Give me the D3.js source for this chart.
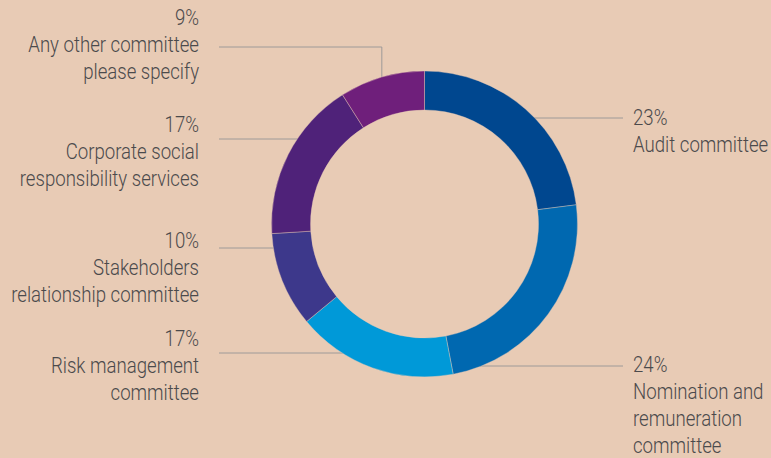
<!DOCTYPE html>
<html>
<head>
<meta charset="utf-8">
<script src="https://cdn.jsdelivr.net/npm/d3@7"></script>
<style>
  html, body { margin: 0; padding: 0; background: #e8cbb5; }
  svg { display: block; }
  text { font-family: "Roboto", "Liberation Sans", sans-serif; font-weight: 300; fill: #4b4a4c; }
</style>
</head>
<body>
<svg id="chart" width="771" height="458"></svg>
<script>
// Committee shares, clockwise from 12 o'clock
const categories = [
  ["Audit committee"],
  ["Nomination and", "remuneration", "committee"],
  ["Risk management", "committee"],
  ["Stakeholders", "relationship committee"],
  ["Corporate social", "responsibility services"],
  ["Any other committee", "please specify"]
];
const values = [23, 24, 17, 10, 17, 9];
const colors = ["#00478f", "#0068b0", "#0099d8", "#3d388b", "#4f2279", "#6f1f7b"];

// Label placement: side, first baseline, leader line height
const labelLayout = [
  { side: "right", baseline: 125, leaderY: 118 },
  { side: "right", baseline: 372, leaderY: 366 },
  { side: "left",  baseline: 346, leaderY: 353 },
  { side: "left",  baseline: 248, leaderY: 248 },
  { side: "left",  baseline: 132, leaderY: 139 },
  { side: "left",  baseline: 25,  leaderY: 47 }
];

const cx = 424.5, cy = 224;
const outerR = 153, innerR = 114;
const lineH = 27;
const condense = 0.81; // narrow typeface look
const leftTextX = 199, leftLineX = 219;
const rightTextX = 633, rightLineX = 623;

const svg = d3.select("#chart");
const data = values.map((v, i) => ({ value: v, label: categories[i], color: colors[i], layout: labelLayout[i] }));

const pie = d3.pie().value(d => d.value).sort(null);
const arcs = pie(data);
const arc = d3.arc().innerRadius(innerR).outerRadius(outerR);

// Leader lines sit beneath the ring so they end at its outer edge
const leaders = svg.append("g").attr("stroke", "#9e9a98").attr("stroke-width", 1).attr("fill", "none");
const midR = (innerR + outerR) / 2;
arcs.forEach(a => {
  const L = a.data.layout;
  const dy = L.leaderY - cy;
  const x0 = L.side === "left" ? leftLineX : rightLineX;
  let pts;
  if (Math.abs(dy) < outerR - 2) {
    const r = Math.abs(dy) < midR ? midR : outerR - 1;
    const dx = Math.sqrt(r * r - dy * dy);
    const x1 = L.side === "left" ? cx - dx : cx + dx;
    pts = [[x0, L.leaderY], [x1, L.leaderY]];
  } else {
    // elbow down to the slice's mid-angle on the ring
    const mid = (a.startAngle + a.endAngle) / 2;
    const mx = cx + outerR * Math.sin(mid);
    const my = cy - outerR * Math.cos(mid);
    pts = [[x0, L.leaderY], [mx, L.leaderY], [mx, my + 2]];
  }
  leaders.append("path").attr("d", d3.line()(pts));
});

// Donut ring
svg.append("g")
  .attr("transform", `translate(${cx},${cy})`)
  .selectAll("path")
  .data(arcs)
  .join("path")
  .attr("d", arc)
  .attr("fill", d => d.data.color)
  .attr("stroke", "#e8cbb5")
  .attr("stroke-width", 0.4);

// Labels: percentage followed by category name lines
const labels = svg.append("g").attr("font-size", 23);
arcs.forEach(a => {
  const L = a.data.layout;
  const x = L.side === "left" ? leftTextX : rightTextX;
  const t = labels.append("text")
    .attr("transform", `translate(${x},0) scale(${condense},1)`)
    .attr("text-anchor", L.side === "left" ? "end" : "start");
  const lines = [a.data.value + "%"].concat(a.data.label);
  lines.forEach((s, i) => {
    t.append("tspan").attr("x", 0).attr("y", L.baseline + i * lineH).text(s);
  });
});
</script>
</body>
</html>
